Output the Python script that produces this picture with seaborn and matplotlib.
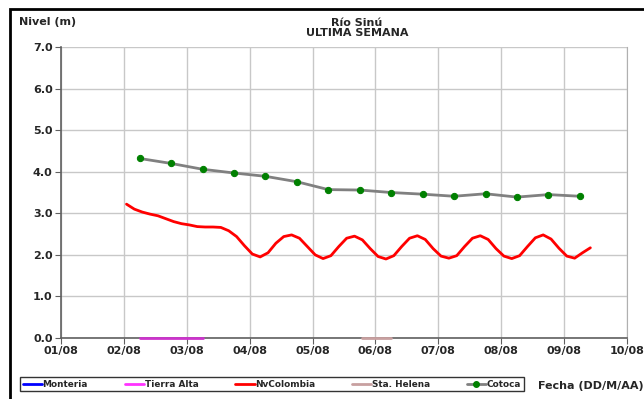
import pandas as pd
import seaborn as sns
import matplotlib.pyplot as plt
import matplotlib.dates as mdates
from matplotlib.lines import Line2D
from matplotlib.patches import Rectangle

# Cotoca, cada 12 horas desde 02/08 06:00
cotoca_inicio = '2013-08-02 06:00'
cotoca_nivel = [4.32, 4.20, 4.06, 3.97, 3.89, 3.76, 3.57, 3.56, 3.50,
                3.46, 3.41, 3.47, 3.39, 3.45, 3.41]

# NvColombia, cada 3 horas desde 02/08 01:00
nvcol_inicio = '2013-08-02 01:00'
nvcol_nivel = [3.22, 3.10, 3.03, 2.98, 2.94, 2.87, 2.80, 2.75, 2.72, 2.68,
               2.67, 2.67, 2.66, 2.58, 2.44, 2.22, 2.02, 1.95, 2.05, 2.28,
               2.44, 2.48, 2.40, 2.20, 2.00, 1.91, 1.98, 2.20, 2.40, 2.45,
               2.36, 2.15, 1.96, 1.90, 1.98, 2.20, 2.40, 2.46, 2.37, 2.15,
               1.97, 1.92, 1.98, 2.20, 2.40, 2.46, 2.37, 2.15, 1.97, 1.91,
               1.98, 2.20, 2.41, 2.48, 2.38, 2.16, 1.97, 1.92, 2.05, 2.17]

# Tierra Alta y Sta. Helena en cero
talta_fechas = ['2013-08-02 06:00', '2013-08-03 06:00']
talta_nivel = [0.0, 0.0]
shelena_fechas = ['2013-08-05 19:00', '2013-08-06 06:00']
shelena_nivel = [0.0, 0.0]

estaciones = ['Monteria', 'Tierra Alta', 'NvColombia', 'Sta. Helena', 'Cotoca']
colores = ['#0000ff', '#ff33ff', '#ff0000', '#c8a0a0', '#808080']

df_cot = pd.DataFrame({'fecha': pd.date_range(cotoca_inicio, periods=len(cotoca_nivel), freq='12h'),
                       'nivel': cotoca_nivel})
df_nv = pd.DataFrame({'fecha': pd.date_range(nvcol_inicio, periods=len(nvcol_nivel), freq='3h'),
                      'nivel': nvcol_nivel})
df_ta = pd.DataFrame({'fecha': pd.to_datetime(talta_fechas), 'nivel': talta_nivel})
df_sh = pd.DataFrame({'fecha': pd.to_datetime(shelena_fechas), 'nivel': shelena_nivel})

sns.set_style('whitegrid')
plt.rcParams['font.family'] = ['DejaVu Sans']
plt.rcParams['font.weight'] = 'bold'

fig = plt.figure(figsize=(6.44, 3.99), dpi=100)
ax = fig.add_axes([0.0947, 0.153, 0.879, 0.729])

sns.lineplot(data=df_sh, x='fecha', y='nivel', color=colores[3], lw=2, ax=ax,
             zorder=5, clip_on=False)
sns.lineplot(data=df_ta, x='fecha', y='nivel', color='#cc33cc', lw=2, ax=ax,
             zorder=5, clip_on=False)
sns.lineplot(data=df_nv, x='fecha', y='nivel', color=colores[2], lw=2, ax=ax)
sns.lineplot(data=df_cot, x='fecha', y='nivel', color=colores[4], lw=2, marker='o',
             markersize=4.5, markerfacecolor='green', markeredgecolor='green', ax=ax)

ax.set_xlim(pd.Timestamp('2013-08-01'), pd.Timestamp('2013-08-10'))
ax.set_ylim(0, 7)
ax.set_yticks([0, 1, 2, 3, 4, 5, 6, 7])
ax.yaxis.set_major_formatter(plt.FormatStrFormatter('%.1f'))
ax.xaxis.set_major_locator(mdates.DayLocator())
ax.xaxis.set_major_formatter(mdates.DateFormatter('%d/%m'))
ax.set_xlabel('')
ax.set_ylabel('')
ax.grid(True, color='#c8c8c8', lw=1)
for s in ['left', 'bottom']:
    ax.spines[s].set_color('#606060')
    ax.spines[s].set_linewidth(1.2)
ax.spines['right'].set_color('#b0b0b0')
ax.spines['top'].set_visible(False)
ax.tick_params(axis='both', labelsize=8, length=4, color='#606060', direction='out',
               left=True, bottom=True, pad=2)
for t in ax.get_xticklabels() + ax.get_yticklabels():
    t.set_fontweight('bold')

handles = [Line2D([], [], color=colores[0], lw=2),
           Line2D([], [], color=colores[1], lw=2),
           Line2D([], [], color=colores[2], lw=2),
           Line2D([], [], color=colores[3], lw=2),
           Line2D([], [], color=colores[4], lw=2, marker='o', markersize=4,
                  markerfacecolor='green', markeredgecolor='green')]
leg = fig.legend(handles, estaciones, ncol=5, loc='lower left',
                 bbox_to_anchor=(0.024, 0.008, 0.796, 0.05), mode='expand',
                 frameon=True, fancybox=False, edgecolor='black',
                 handlelength=2.2, handletextpad=0.05, borderpad=0.3,
                 prop={'weight': 'bold', 'size': 6.4})
leg.get_frame().set_linewidth(1)

fig.text(0.835, 0.032, 'Fecha (DD/M/AA)', fontsize=8, fontweight='bold', va='center')
fig.text(0.03, 0.945, 'Nivel (m)', fontsize=8, fontweight='bold', va='center')
fig.text(0.554, 0.929, 'Río Sinú\nULTIMA SEMANA', fontsize=8, fontweight='bold',
         ha='center', va='center', linespacing=1.0)

fig.patches.append(Rectangle((0.016, -0.05), 1.1, 1.028, transform=fig.transFigure,
                             fill=False, edgecolor='black', lw=2))

fig.savefig('out.png', dpi=100)
